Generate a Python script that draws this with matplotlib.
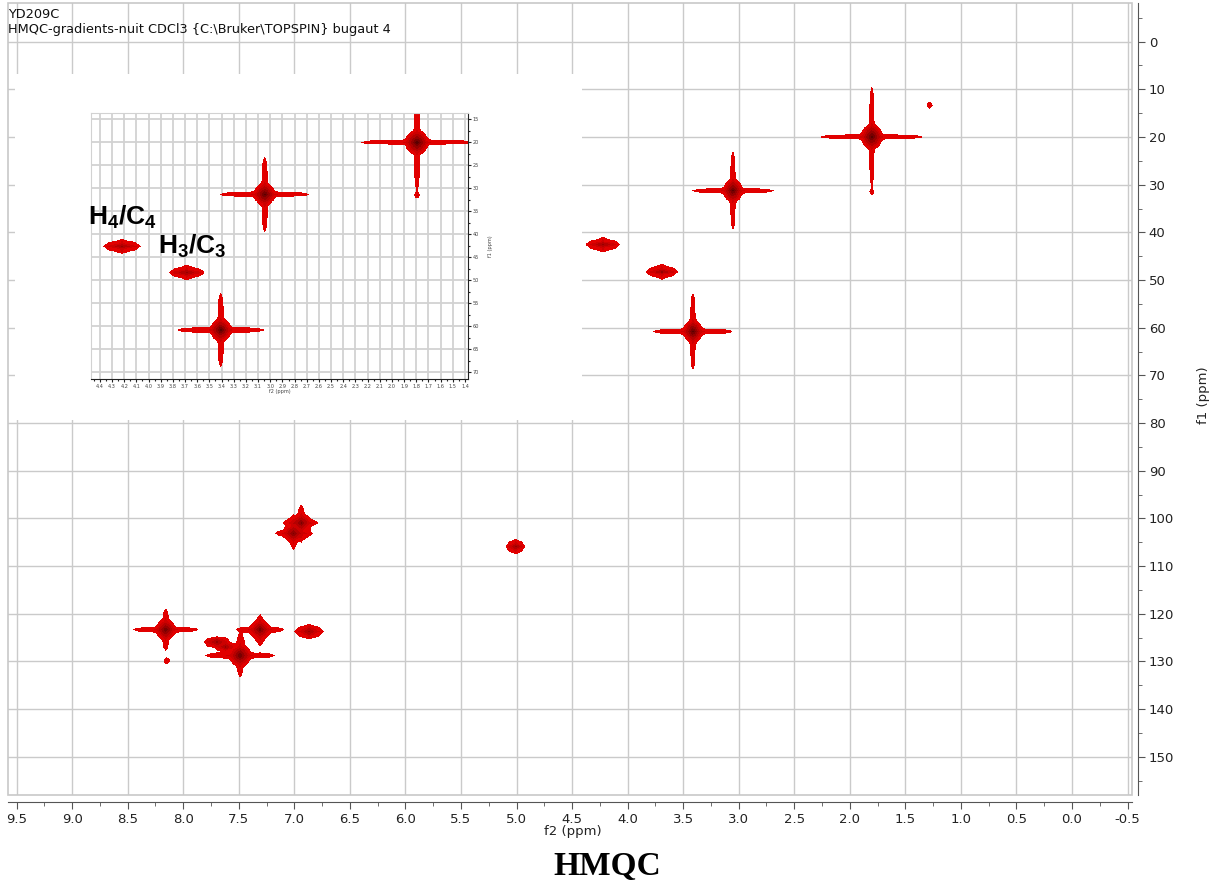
import numpy as np
import matplotlib
matplotlib.use('Agg')
import matplotlib.pyplot as plt
from matplotlib.colors import ListedColormap, BoundaryNorm
from matplotlib.patches import Rectangle
from matplotlib.ticker import MultipleLocator, FormatStrFormatter

plt.rcParams['font.family'] = ['DejaVu Sans']
plt.rcParams['axes.unicode_minus'] = False
plt.rcParams['mathtext.fontset'] = 'custom'
plt.rcParams['mathtext.rm'] = 'Liberation Sans:bold'
plt.rcParams['mathtext.it'] = 'Liberation Sans:bold'

#------------------------------- PEAK LIST -------------------------------------
# cross peaks: 1H shift (f2), 13C shift (f1), relative
# intensity, line widths, half length of the t1/t2 ridges and of the core (ppm)
peak_f2 = np.array([1.80, 3.05, 4.22, 3.69, 3.41, 1.28, 6.94, 7.01, 5.01,
                    8.16, 7.31, 6.87, 7.49, 7.70, 7.62, 1.80, 8.15])
peak_f1 = np.array([20.1, 31.4, 42.7, 48.4, 60.9, 13.5, 101.0, 103.2, 106.0,
                    123.4, 123.4, 123.8, 128.8, 126.0, 127.0, 31.6, 129.9])
peak_amp = np.array([60, 50, 12, 12, 50, 2, 25, 25, 12,
                     40, 30, 12, 40, 12, 10, 2, 2])
peak_w2 = np.array([0.013, 0.013, 0.012, 0.012, 0.013, 0.015, 0.013, 0.013, 0.012,
                    0.014, 0.014, 0.012, 0.014, 0.012, 0.012, 0.012, 0.015])
peak_w1 = np.array([0.30, 0.30, 0.25, 0.25, 0.30, 0.40, 0.30, 0.30, 0.25,
                    0.30, 0.30, 0.25, 0.30, 0.25, 0.25, 0.35, 0.40])
peak_arm2 = np.array([0.43, 0.34, 0.14, 0.13, 0.33, 0.0, 0.14, 0.15, 0.08,
                      0.27, 0.20, 0.12, 0.29, 0.10, 0.07, 0.0, 0.0])
peak_arm1 = np.array([9.7, 7.6, 1.5, 1.5, 7.5, 0.0, 3.4, 3.1, 1.4,
                      4.0, 2.9, 1.5, 4.2, 1.0, 0.8, 0.0, 0.0])
peak_core2 = np.array([0.09, 0.08, 0.11, 0.11, 0.08, 0.02, 0.08, 0.08, 0.06,
                       0.08, 0.08, 0.08, 0.09, 0.08, 0.06, 0.015, 0.02])
peak_core1 = np.array([2.5, 2.3, 0.7, 0.7, 2.3, 0.5, 1.6, 1.6, 0.8,
                       2.0, 1.8, 1.0, 2.2, 0.9, 0.7, 0.45, 0.5])

contour_levels = [1, 4, 10, 25, 50, 90, 1e6]
contour_colors = ['#e10000', '#cc0000', '#b40000', '#960000', '#780000', '#5a0000']

main_xticks = np.arange(-0.5, 9.51, 0.5)
main_yticks = np.arange(0, 151, 10)


def lineshape(d, w, arm, c):
    p = 1.0 / (1.0 + (d / w) ** 2)
    if arm > 0:
        p = p + c / (1.0 + (d / arm) ** 12)
    return p


def spectrum(x, y):
    z = np.zeros((len(y), len(x)), dtype=np.float32)
    for f2, f1, a, w2, w1, h2, h1, k2, k1 in zip(peak_f2, peak_f1, peak_amp, peak_w2,
                                                 peak_w1, peak_arm2, peak_arm1,
                                                 peak_core2, peak_core1):
        c = 3.0 / a
        lx = lineshape(x - f2, w2, h2, c)
        ly = lineshape(y - f1, w1, h1, c)
        s = np.sqrt(np.log(a))
        gx = np.exp(-((x - f2) * s / k2) ** 2)
        gy = np.exp(-((y - f1) * s / k1) ** 2)
        z += (a * (np.outer(ly, lx) + np.outer(gy, gx))).astype(np.float32)
    return np.ma.masked_less(z, 1)


cmap = ListedColormap(contour_colors)
norm = BoundaryNorm(contour_levels, cmap.N)
W, H = 1218, 890

#-------------------------------- MAIN PLOT ------------------------------------
fig = plt.figure(figsize=(W / 100, H / 100), dpi=100)
ax = fig.add_axes([8 / W, 1 - 795 / H, (1132 - 8) / W, (795 - 3) / H])

x = np.arange(-0.6, 9.65, 0.0045)
y = np.arange(-9, 159, 0.1)
ax.imshow(spectrum(x, y), extent=(x[0], x[-1], y[0], y[-1]), origin='lower',
          cmap=cmap, norm=norm, aspect='auto', interpolation='nearest', zorder=2)
ax.set_xlim(9.577, -0.54)
ax.set_ylim(158.0, -8.1)

ax.set_xticks(main_xticks)
ax.set_yticks(main_yticks)
ax.xaxis.set_major_formatter(FormatStrFormatter('%.1f'))
ax.xaxis.set_minor_locator(MultipleLocator(0.25))
ax.yaxis.set_minor_locator(MultipleLocator(5))
ax.yaxis.tick_right()
ax.grid(True, color='#cacaca', lw=1)
ax.set_axisbelow(True)
for s in ['top', 'left']:
    ax.spines[s].set_visible(False)
ax.spines['right'].set_position(('outward', 4))
ax.spines['bottom'].set_position(('outward', 5))
for s in ['right', 'bottom']:
    ax.spines[s].set_color('#555555')
ax.tick_params(which='major', length=5, color='#555555', labelsize=9.5,
               labelcolor='#222222', pad=3)
ax.tick_params(which='minor', length=3, color='#555555')
ax.add_patch(Rectangle((0, 0), 1, 1, transform=ax.transAxes, fill=False,
                       ec='#c8c8c8', lw=1.2, clip_on=False, zorder=3))

fig.text(573 / W, 1 - 832 / H, 'f2 (ppm)', ha='center', va='center', fontsize=9.5, color='#222222')
fig.text(1203 / W, 1 - 395 / H, 'f1 (ppm)', ha='center', va='center', rotation=90,
         fontsize=9.5, color='#222222')
fig.text(8 / W, 1 - 14 / H, 'YD209C', va='center', fontsize=9.3, color='#111111')
fig.text(8 / W, 1 - 30 / H, 'HMQC-gradients-nuit CDCl3 {C:\\Bruker\\TOPSPIN} bugaut 4',
         va='center', fontsize=9.3, color='#111111')

#-------------------------------- INSET ----------------------------------------
cover = fig.add_axes([15 / W, 1 - 420 / H, 567 / W, 346 / H])
cover.axis('off')
cover.add_patch(Rectangle((0, 0), 1, 1, transform=cover.transAxes, fc='white', ec='none'))

ins = fig.add_axes([91 / W, 1 - 379 / H, (468 - 91) / W, (379 - 113.3) / H])
xi = np.arange(1.3, 4.55, 0.004)
yi = np.arange(13, 72.5, 0.1)
ins.imshow(spectrum(xi, yi), extent=(xi[0], xi[-1], yi[0], yi[-1]), origin='lower',
           cmap=cmap, norm=norm, aspect='auto', interpolation='nearest', zorder=2)
ins.set_xlim(4.473, 1.375)
ins.set_ylim(71.5, 13.76)
ins.set_xticks(np.arange(1.4, 4.45, 0.1))
ins.set_yticks(np.arange(15, 71, 5))
ins.xaxis.set_major_formatter(FormatStrFormatter('%.1f'))
ins.xaxis.set_minor_locator(MultipleLocator(0.05))
ins.yaxis.set_minor_locator(MultipleLocator(2.5))
ins.yaxis.tick_right()
ins.grid(True, color='#d2d2d2', lw=1.3)
ins.set_axisbelow(True)
for s in ['top', 'left']:
    ins.spines[s].set_color('#d2d2d2')
for s in ['right', 'bottom']:
    ins.spines[s].set_color('#222222')
ins.tick_params(which='major', length=2.2, width=0.8, color='#222222', labelsize=3.6,
                labelcolor='#444444', pad=1.2)
ins.tick_params(which='minor', length=1.2, width=0.8, color='#222222')
ins.set_xlabel('f2 (ppm)', fontsize=3.6, labelpad=0.5, color='#444444')
ins.yaxis.set_label_position('right')
ins.set_ylabel('f1 (ppm)', fontsize=3.6, labelpad=6, color='#444444')

fig.text(88 / W, 1 - 225 / H, r'$\mathrm{H_4/C_4}$', fontsize=19, va='baseline')
fig.text(158 / W, 1 - 254 / H, r'$\mathrm{H_3/C_3}$', fontsize=19, va='baseline')

fig.text(607 / W, 1 - 867 / H, 'HMQC', family='Liberation Serif', weight='bold',
         fontsize=24, ha='center', va='center')

fig.savefig('out.png', dpi=100)
